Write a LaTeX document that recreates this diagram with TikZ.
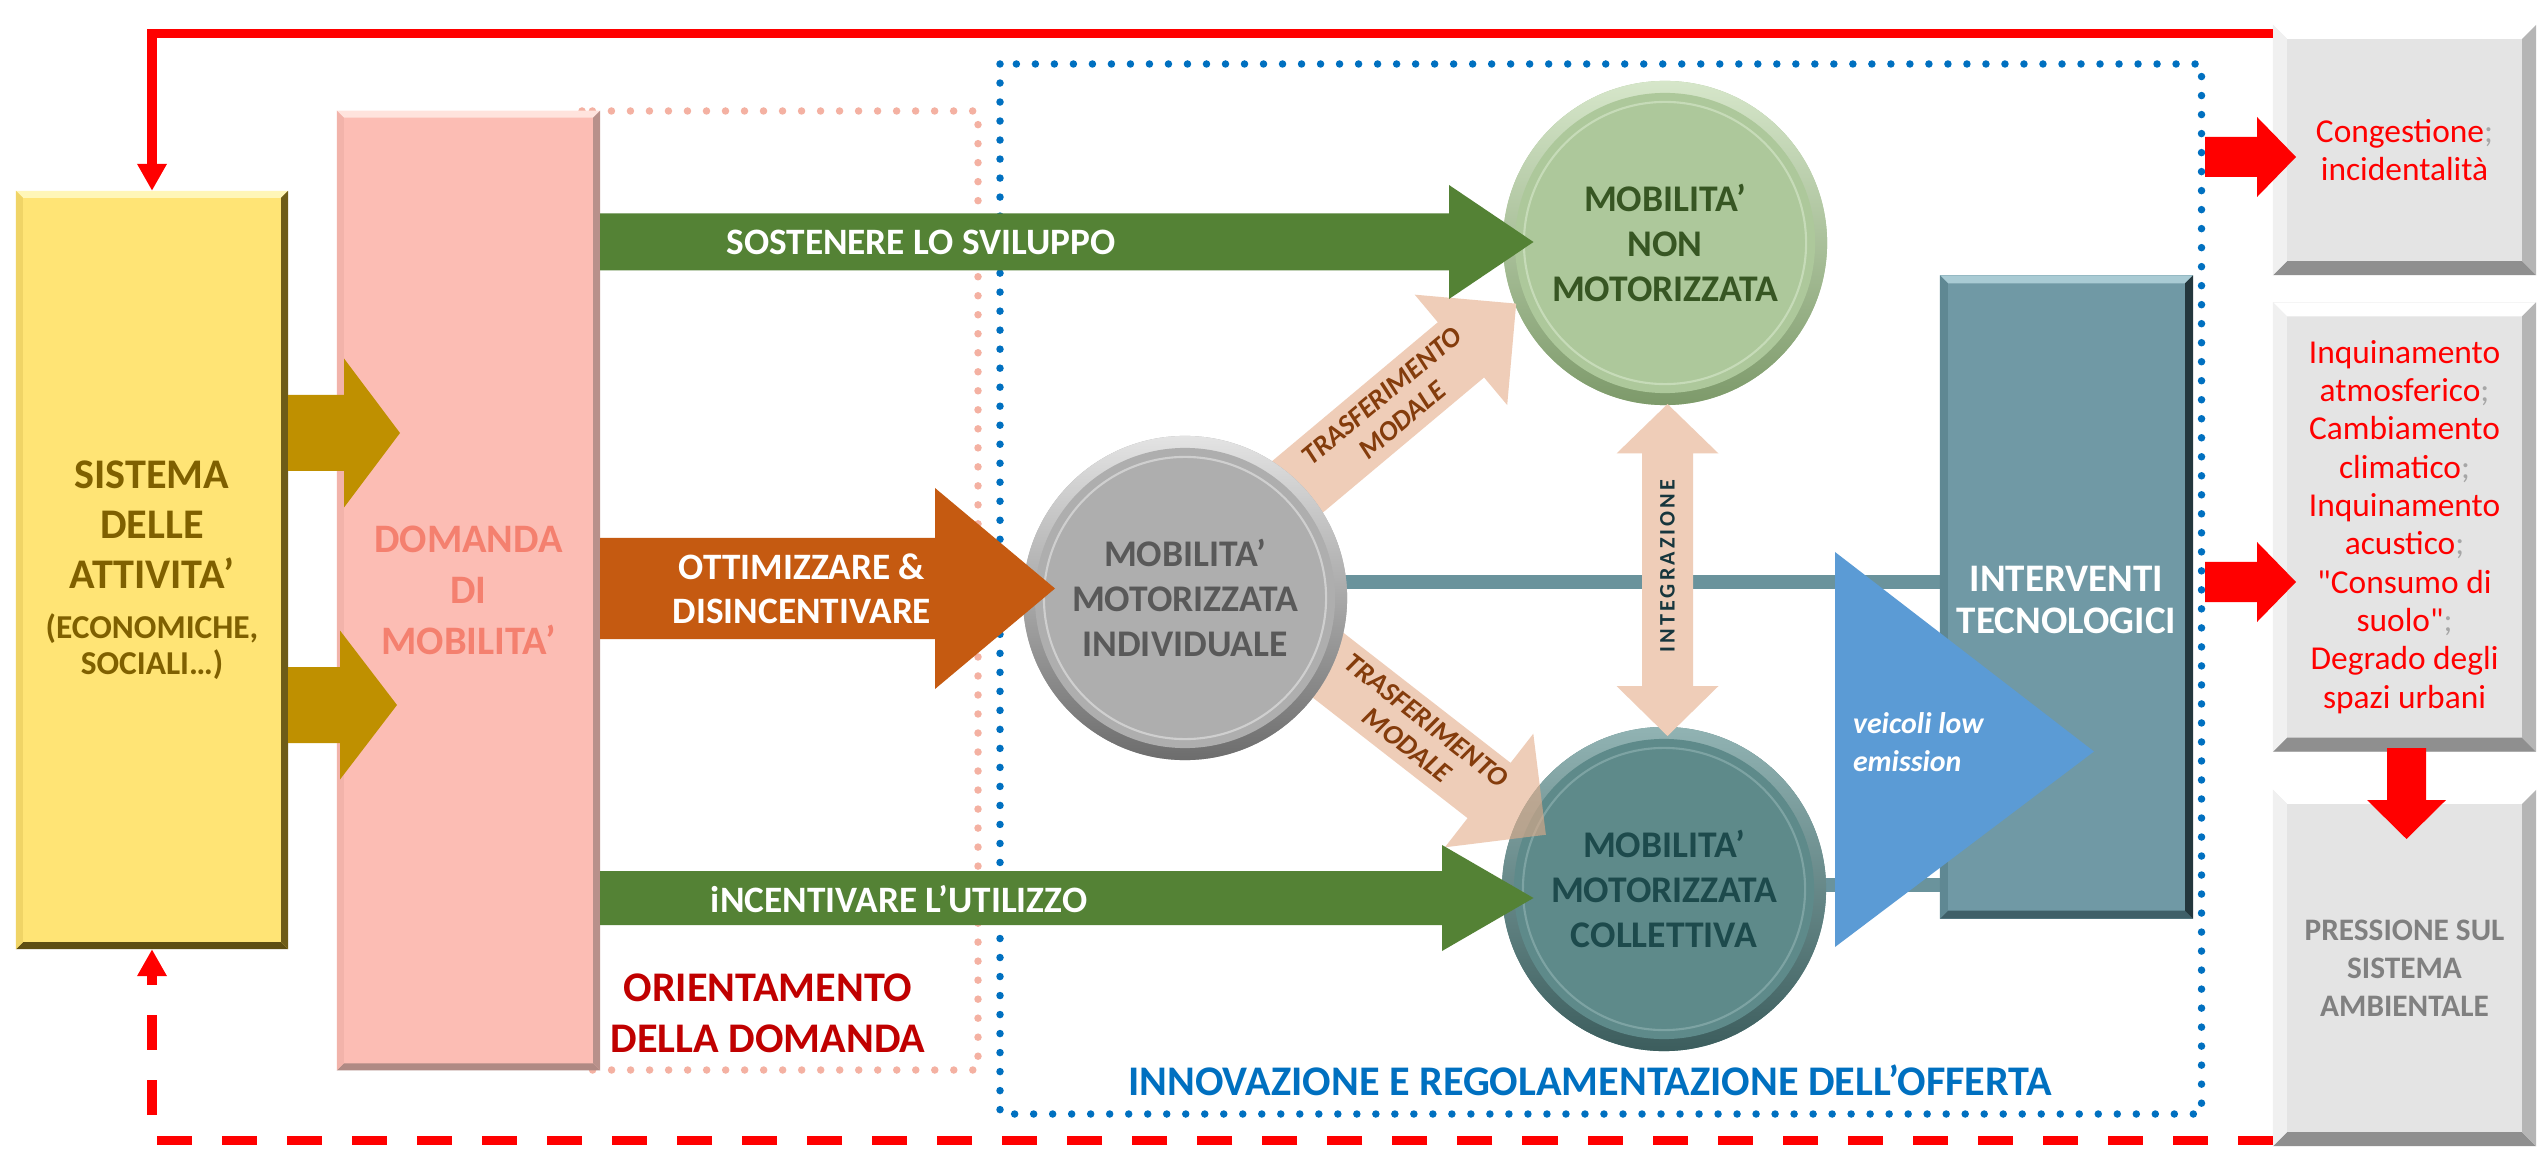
\documentclass[tikz,border=0pt]{standalone}
\usepackage{fontspec}
\setmainfont{Carlito}
\newfontfamily\cfq{Carlito}
\usetikzlibrary{arrows.meta,calc}
\pgfdeclarelayer{back}
\pgfdeclarelayer{bg}
\pgfsetlayers{back,bg,main}

\definecolor{yel}{HTML}{FFE475}
\definecolor{yelT}{HTML}{FFF6B8}
\definecolor{yelB}{HTML}{5E4E12}
\definecolor{yelL}{HTML}{F0D466}
\definecolor{yelR}{HTML}{6E5C18}
\definecolor{yeltext}{HTML}{7F6000}
\definecolor{gold}{HTML}{BF9000}
\definecolor{pinkb}{HTML}{FCBDB4}
\definecolor{pinkT}{HTML}{FFE3DD}
\definecolor{pinkB}{HTML}{B08A84}
\definecolor{pinkL}{HTML}{F2B3AA}
\definecolor{pinkR}{HTML}{B8918B}
\definecolor{pinktext}{HTML}{F4806F}
\definecolor{pinkdot}{HTML}{F4B1A2}
\definecolor{bluedot}{HTML}{0070C0}
\definecolor{grn}{HTML}{548235}
\definecolor{org}{HTML}{C55A11}
\definecolor{ortext}{HTML}{C00000}
\definecolor{peach}{HTML}{EFCDB8}
\definecolor{peach2}{HTML}{E4AC89}
\definecolor{brownc}{HTML}{843C0C}
\definecolor{tealc}{HTML}{6A939C}
\definecolor{techb}{HTML}{7099A5}
\definecolor{techT}{HTML}{A9CBD4}
\definecolor{techB}{HTML}{3F5F68}
\definecolor{techL}{HTML}{5F8893}
\definecolor{techR}{HTML}{24373D}
\definecolor{blu}{HTML}{5B9BD5}
\definecolor{gryc}{HTML}{AEAEAE}
\definecolor{grycT}{HTML}{E6E6E6}
\definecolor{grycB}{HTML}{6A6A6A}
\definecolor{grytext}{HTML}{595959}
\definecolor{grnc}{HTML}{ADC89B}
\definecolor{grncT}{HTML}{D8E8CC}
\definecolor{grncB}{HTML}{7B9868}
\definecolor{grnctext}{HTML}{375623}
\definecolor{tlc}{HTML}{5E8A8A}
\definecolor{tlcT}{HTML}{93B5B5}
\definecolor{tlcB}{HTML}{3A5B5B}
\definecolor{tlctext}{HTML}{1D4A4C}
\definecolor{boxg}{HTML}{E4E4E4}
\definecolor{boxgB}{HTML}{8F8F8F}
\definecolor{boxgL}{HTML}{F0F0F0}
\definecolor{boxgR}{HTML}{B5B5B5}
\definecolor{semi}{HTML}{A6A6A6}
\definecolor{presstext}{HTML}{808080}
\definecolor{integtext}{HTML}{17363D}
\definecolor{innov}{HTML}{0070C0}

% horizontal block arrow: colour, x start, x head base, x tip, y centre, half body, half head
\newcommand\blockH[7]{\fill[#1] (#2,#5-#6) -- (#3,#5-#6) -- (#3,#5-#7) -- (#4,#5) -- (#3,#5+#7) -- (#3,#5+#6) -- (#2,#5+#6) -- cycle;}
% rotated block arrow: colour, x0, y0, angle, length, half body, half head, head length
\newcommand\blockR[8]{\begin{scope}[shift={(#2,#3)}, rotate=#4]
\fill[#1] (0,-#6) -- (#5-#8,-#6) -- (#5-#8,-#7) -- (#5,0) -- (#5-#8,#7) -- (#5-#8,#6) -- (0,#6) -- cycle;
\end{scope}}

\tikzset{
  every node/.style={inner sep=0pt, outer sep=0pt},
  panel/.style={rectangle, align=center},
  bevel/.style n args={5}{path picture={
    \fill[#1] (path picture bounding box.north west) -- (path picture bounding box.north east)
      -- ([shift={(-#5,#5)}]path picture bounding box.north east) -- ([shift={(#5,#5)}]path picture bounding box.north west) -- cycle;
    \fill[#2] (path picture bounding box.south west) -- (path picture bounding box.south east)
      -- ([shift={(-#5,-#5)}]path picture bounding box.south east) -- ([shift={(#5,-#5)}]path picture bounding box.south west) -- cycle;
    \fill[#3] (path picture bounding box.north west) -- ([shift={(#5,#5)}]path picture bounding box.north west)
      -- ([shift={(#5,-#5)}]path picture bounding box.south west) -- (path picture bounding box.south west) -- cycle;
    \fill[#4] (path picture bounding box.north east) -- ([shift={(-#5,#5)}]path picture bounding box.north east)
      -- ([shift={(-#5,-#5)}]path picture bounding box.south east) -- (path picture bounding box.south east) -- cycle;
  }},
  disc/.style n args={3}{circle, minimum size=3.24cm, align=center, fill=#1, path picture={
    \shade[top color=#2, bottom color=#3] ([shift={(-170,-170)}]path picture bounding box.center) rectangle ([shift={(170,170)}]path picture bounding box.center);
    \fill[#1] (path picture bounding box.center) circle[radius=1.5cm];
    \draw[#2, line width=0.6pt, opacity=0.6] (path picture bounding box.center) circle[radius=1.41cm];
  }},
  dotline/.style={line width=0.075cm, dash pattern=on 0pt off 0.19cm, line cap=round},
  redline/.style={draw=red, line width=0.09cm},
  tealline/.style={draw=tealc, line width=0.13cm},
  arrowtext/.style={text=white, font=\bfseries\fontsize{10.6}{12.5}\selectfont, align=center},
  transtext/.style={text=brownc, font=\bfseries\itshape\fontsize{8}{9}\selectfont, align=center},
  disctext/.style={font=\bfseries\fontsize{10.7}{12.7}\selectfont},
  redtext/.style={text=red, font=\fontsize{9.5}{10.9}\selectfont},
  rtip/.style={-{Triangle[length=0.27cm,width=0.28cm]}},
}

\begin{document}
\begin{tikzpicture}[x=0.01cm, y=-0.01cm]
\useasboundingbox (0,0) rectangle (2539,1152);
\begin{pgfonlayer}{back}
\fill[white] (0,0) rectangle (2539,1152);
\end{pgfonlayer}

% dotted zones
\draw[dotline, pinkdot] (582,111) rectangle (978,1070);
\draw[dotline, bluedot] (1000,64) rectangle (2201.5,1114);

% left boxes
\node[panel, fill=yel, bevel={yelT}{yelB}{yelL}{yelR}{7}, minimum width=2.72cm, minimum height=7.58cm,
  text=yeltext, font=\bfseries\fontsize{12}{14.2}\selectfont] (sys) at (152,570)
  {SISTEMA\\DELLE\\ATTIVITA’\\{\fontsize{9.5}{10.5}\selectfont(ECONOMICHE,}\\[-4pt]{\fontsize{9.5}{10.5}\selectfont SOCIALI…)}};
\node[panel, fill=pinkb, bevel={pinkT}{pinkB}{pinkL}{pinkR}{7}, minimum width=2.63cm, minimum height=9.59cm,
  text=pinktext, font=\bfseries\fontsize{11.5}{14.4}\selectfont] (dom) at (468.5,590.5)
  {DOMANDA\\DI\\MOBILITA’};

% gold arrows
\blockH{gold}{288}{344}{400}{433}{38}{74.5}
\blockH{gold}{288}{340}{397}{705}{38}{74.5}

% circles
\node[disc={tlc}{tlcT}{tlcB}, disctext, text=tlctext] (coll) at (1664,889) {MOBILITA’\\MOTORIZZATA\\COLLETTIVA};
\node[disc={grnc}{grncT}{grncB}, disctext, text=grnctext] (nonmot) at (1665,243) {MOBILITA’\\NON\\MOTORIZZATA};

% modal shift arrows
\blockR{peach}{1277}{504}{39.96}{312}{36}{72}{72}
\blockR{peach2, fill opacity=0.6}{1306}{648}{-37.9}{304}{35}{72}{72}

\node[disc={gryc}{grycT}{grycB}, disctext, text=grytext] (ind) at (1185,598) {MOBILITA’\\MOTORIZZATA\\INDIVIDUALE};

\node[transtext, rotate=39.96] (tm1) at (1392,408) {TRASFERIMENTO\\MODALE};
\node[transtext, rotate=-37.9] (tm2) at (1417,733) {TRASFERIMENTO\\MODALE};

% integration double arrow
\fill[peach] (1667.5,404) -- (1718.5,453.5) -- (1693,453.5) -- (1693,686) -- (1718.5,686) -- (1667.5,736)
  -- (1616.5,686) -- (1642,686) -- (1642,453.5) -- (1616.5,453.5) -- cycle;
\node[rotate=90, text=integtext, font=\bfseries\fontsize{6.3}{7}\selectfont\addfontfeature{LetterSpace=14}] (integ) at (1667.5,566) {INTEGRAZIONE};

% demand arrows
\blockH{grn}{600}{1449}{1533.5}{242}{28.5}{57}
\blockH{org}{600}{935}{1055}{588.5}{50.5}{100.5}
\blockH{grn}{600}{1442}{1533.5}{898}{27}{53}
\node[arrowtext] (a1) at (921,242) {SOSTENERE LO SVILUPPO};
\node[arrowtext] (a2) at (802,589) {OTTIMIZZARE \&\\DISINCENTIVARE};
\node[arrowtext] (a3) at (899,899) {iNCENTIVARE L’UTILIZZO};

% technology box and triangle
\node[panel, fill=techb, bevel={techT}{techB}{techL}{techR}{8}, minimum width=2.53cm, minimum height=6.43cm] (tech) at (2066.5,597) {};
\fill[blu] (1835,552) -- (2094,751.5) -- (1835,947) -- cycle;
\node[text=white, font=\bfseries\fontsize{11.1}{12.2}\selectfont, align=center] (techlbl) at (2066.5,600) {INTERVENTI\\TECNOLOGICI};
\node[anchor=west, align=left, text=white, font=\bfseries\itshape\fontsize{8.5}{10.8}\selectfont] (veic) at (1853,742) {veicoli low\\emission};

% teal links
\begin{pgfonlayer}{bg}
\draw[tealline] ($(ind.center)+(0,-16)$) -- ($(tech.west)+(0,-15)$);
\draw[tealline] ($(coll.center)+(0,-4)$) -- ($(tech.west)+(0,288)$);
\end{pgfonlayer}

% right boxes
\node[panel, fill=boxg, bevel={white}{boxgB}{boxgL}{boxgR}{14}, minimum width=2.63cm, minimum height=2.5cm, redtext] (cong) at (2404.5,150)
  {Congestione\textcolor{semi}{;}\\incidentalità};
\node[panel, fill=boxg, bevel={white}{boxgB}{boxgL}{boxgR}{14}, minimum width=2.63cm, minimum height=4.49cm, redtext] (inq) at (2404.5,527)
  {Inquinamento\\atmosferico\textcolor{semi}{;}\\Cambiamento\\climatico\textcolor{semi}{;}\\Inquinamento\\acustico\textcolor{semi}{;}\\{\cfq"Consumo di}\\{\cfq suolo"}\textcolor{semi}{;}\\Degrado degli\\spazi urbani};
\node[panel, fill=boxg, bevel={white}{boxgB}{boxgL}{boxgR}{14}, minimum width=2.63cm, minimum height=3.56cm,
  text=presstext, font=\bfseries\fontsize{8.9}{10.8}\selectfont] (press) at (2404.5,968)
  {PRESSIONE SUL\\SISTEMA\\AMBIENTALE};

% red block arrows
\blockH{red}{2205}{2257}{2296}{157}{20}{40}
\blockH{red}{2205}{2257}{2296}{582}{20}{40}
\fill[red] (2387,748) -- (2426,748) -- (2426,800) -- (2446,800) -- (2406.5,839) -- (2367,800) -- (2387,800) -- cycle;

% zone titles
\node[text=ortext, font=\bfseries\fontsize{12}{14.5}\selectfont, align=center] (orient) at (768,1013) {ORIENTAMENTO\\DELLA DOMANDA};
\node[text=innov, font=\bfseries\fontsize{12}{14.5}\selectfont] (innovlbl) at (1590,1080) {INNOVAZIONE E REGOLAMENTAZIONE DELL’OFFERTA};

% feedback loops
\coordinate (toprow) at (0,34);
\coordinate (botrow) at (0,1140);
\draw[redline, rtip] (cong.west |- toprow) -| (sys.north);
\draw[redline, rtip, dash pattern=on 0.35cm off 0.3cm] (press.west |- botrow) -| (sys.south);
\end{tikzpicture}
\end{document}
